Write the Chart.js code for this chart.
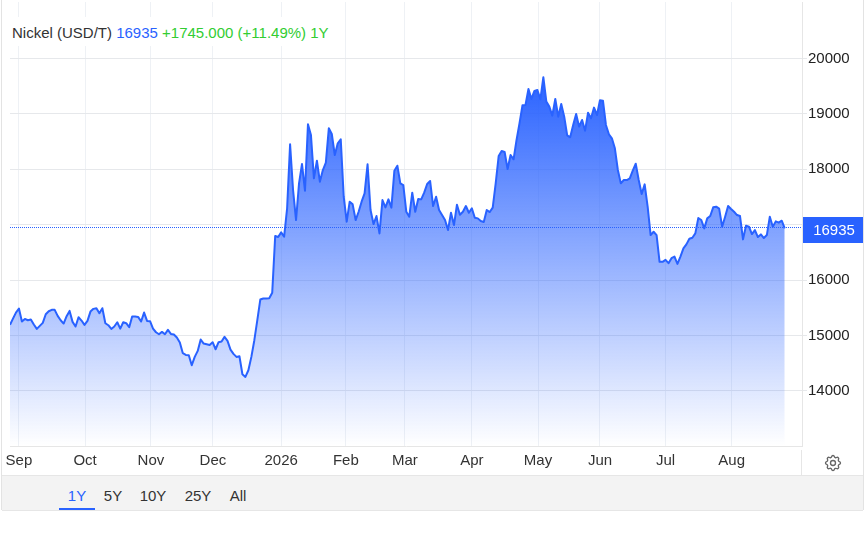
<!DOCTYPE html>
<html>
<head>
<meta charset="utf-8">
<title>Nickel</title>
<script src="https://cdn.jsdelivr.net/npm/chart.js@4"></script>
<style>
  body { margin: 0; background: #fff; font-family: "Liberation Sans", Arial, sans-serif; }
  #wrap { position: relative; width: 868px; height: 534px; overflow: hidden; }
  #nickel-chart { position: absolute; left: 0; top: 0; }
  #title { position: absolute; left: 10px; top: 17px; height: 29px; line-height: 31px; padding: 0 6px 0 2px; background: #fff; font-size: 15px; color: #333; white-space: nowrap; }
  #title .last { color: #2962ff; }
  #title .chg { color: #32cd32; }
  #frame-left { position: absolute; left: 1px; top: 0; width: 1px; height: 510px; background: #e3e3e3; }
  #frame-right { position: absolute; left: 863px; top: 0; width: 1px; height: 510px; background: #e3e3e3; }
  #axis-stub { position: absolute; left: 801px; top: 450px; width: 1px; height: 25px; background: #e6e6e6; }
  #ranges { position: absolute; left: 2px; top: 475px; width: 861px; height: 34px; background: #f3f3f3; border-top: 1px solid #e6e6e6; border-bottom: 1px solid #e6e6e6; }
  #ranges span { position: absolute; top: 0; width: 36px; height: 34px; line-height: 40px; text-align: center; font-size: 15px; color: #333; }
  #ranges span.on { color: #2962ff; border-bottom: 2px solid #2962ff; height: 32px; }
  #gear { position: absolute; left: 823px; top: 453px; }
</style>
</head>
<body>
<div id="wrap">
  <canvas id="nickel-chart" width="868" height="534"></canvas>
  <div id="title">Nickel (USD/T) <span class="last">16935</span> <span class="chg">+1745.000 (+11.49%) 1Y</span></div>
  <div id="axis-stub"></div>
  <svg id="gear" width="20" height="20" viewBox="0 0 24 24" fill="none" stroke="#666" stroke-width="1.6">
    <path d="M10.325 4.317c.426-1.756 2.924-1.756 3.35 0a1.724 1.724 0 002.573 1.066c1.543-.94 3.31.826 2.37 2.37a1.724 1.724 0 001.065 2.572c1.756.426 1.756 2.924 0 3.35a1.724 1.724 0 00-1.066 2.573c.94 1.543-.826 3.31-2.37 2.37a1.724 1.724 0 00-2.572 1.065c-.426 1.756-2.924 1.756-3.35 0a1.724 1.724 0 00-2.573-1.066c-1.543.94-3.31-.826-2.37-2.37a1.724 1.724 0 00-1.065-2.572c-1.756-.426-1.756-2.924 0-3.35a1.724 1.724 0 001.066-2.573c-.94-1.543.826-3.31 2.37-2.37.996.608 2.296.07 2.572-1.065z"/>
    <circle cx="12" cy="12" r="3"/>
  </svg>
  <div id="ranges">
    <span class="on" style="left:57px">1Y</span>
    <span style="left:93px">5Y</span>
    <span style="left:133px">10Y</span>
    <span style="left:178px">25Y</span>
    <span style="left:218px">All</span>
  </div>
  <div id="frame-left"></div>
  <div id="frame-right"></div>
</div>
<script>
// daily close, one value per trading day
const nickelPrices = [
  15193, 15307, 15415, 15488, 15253, 15301, 15277, 15289, 15199, 15120, 15175, 15229, 15385, 15439, 15464, 15464,
  15355, 15277, 15217, 15349, 15445, 15247, 15163, 15331, 15271, 15193, 15265, 15433, 15482, 15494, 15403, 15494,
  15223, 15187, 15120, 15163, 15241, 15126, 15241, 15223, 15151, 15343, 15343, 15337, 15253, 15415, 15265, 15259,
  15126, 15060, 15024, 15066, 15024, 15102, 15030, 15018, 14964, 14874, 14681, 14651, 14645, 14464, 14615, 14723,
  14928, 14856, 14843, 14831, 14880, 14753, 14880, 14892, 14976, 14904, 14747, 14669, 14615, 14627, 14302, 14254,
  14374, 14615, 14916, 15277, 15650, 15668, 15668, 15674, 15771,
  16796, 16778, 16862, 16784, 17296, 18452, 17627, 17085, 17747, 18096, 17615, 18813, 18620, 17837, 18157, 17777,
  17988, 18120, 18740, 18638, 18259, 18470, 18542, 17506, 17055, 17416, 17368, 17085, 17235, 17416, 17567, 18090,
  17266, 17013, 17157, 16844, 17446, 17314, 17458, 17308, 17976, 18066, 17747, 17717, 17235, 17145, 17579, 17235,
  17464, 17458, 17579, 17735, 17789, 17338,
  17506, 17266, 17175, 17085, 16904, 17217, 16995, 17362, 17181, 17235, 17338, 17217, 17296, 17127, 17115, 17067,
  17049, 17266, 17229, 17308, 17747, 18241, 18331, 18313, 18006, 18259, 18181, 18530, 18831, 19156, 19162, 19451,
  19270, 19415, 19433, 19264, 19662, 19222, 19132, 18969, 19270, 18951, 19180, 18951, 18614, 18578, 18801, 18999,
  18771, 18891, 18698, 19023, 18921, 19114, 18981, 19246, 19240, 18801, 18632, 18560, 18379, 17988, 17747, 17807,
  17807, 17837, 17976, 18102, 17807, 17555, 17729, 17326, 16814, 16874, 16814,
  16330, 16330, 16366, 16306, 16396, 16426, 16294, 16426, 16573, 16646, 16748, 16766, 16844, 17121, 17085, 16934,
  17115, 17157, 17314, 17326, 17290, 16965, 17145, 17338, 17284, 17235, 17175, 17157, 16736, 16983, 16965, 16832,
  16904, 16778, 16826, 16760, 16814, 17145, 16965, 17061, 17037, 17073, 16935
];
const lastPrice = 16935;
const monthLabels = ['Sep', 'Oct', 'Nov', 'Dec', '2026', 'Feb', 'Mar', 'Apr', 'May', 'Jun', 'Jul', 'Aug'];
const monthPositions = [3, 25.2, 47.3, 68.1, 91, 112.7, 132.5, 155, 177.2, 198, 220, 242.2];
const priceTicks = [14000, 15000, 16000, 17000, 18000, 19000, 20000];
const xMax = 265.8;
const yMin = 13007;
const yMax = 21020;

const blue = '#2962ff';

function areaGradient(context) {
  const chart = context.chart;
  if (!chart.chartArea) return 'rgba(41,98,255,0.5)';
  const top = chart.scales.y.getPixelForValue(19662);
  const g = chart.ctx.createLinearGradient(0, top, 0, chart.chartArea.bottom);
  g.addColorStop(0, 'rgba(41,98,255,1)');
  g.addColorStop(1, 'rgba(41,98,255,0)');
  return g;
}

// dotted last price line and the blue box on the right axis
const lastPriceMark = {
  id: 'lastPriceMark',
  afterDraw(chart) {
    const c = chart.ctx;
    const area = chart.chartArea;
    const y = Math.floor(chart.scales.y.getPixelForValue(lastPrice));
    c.save();
    c.strokeStyle = blue;
    c.lineWidth = 1;
    c.setLineDash([1, 1]);
    c.beginPath();
    c.moveTo(area.left, y - 0.5);
    c.lineTo(area.right, y - 0.5);
    c.stroke();
    c.fillStyle = blue;
    c.fillRect(area.right + 1, y - 11, 61, 26);
    c.fillStyle = '#fff';
    c.font = '15px "Liberation Sans", Arial, sans-serif';
    c.textAlign = 'center';
    c.textBaseline = 'middle';
    c.fillText(String(lastPrice), area.right + 32, y + 2.5);
    c.restore();
  }
};

new Chart(document.getElementById('nickel-chart').getContext('2d'), {
  type: 'line',
  data: {
    datasets: [{
      data: nickelPrices.map((v, i) => ({ x: i, y: v })),
      borderColor: blue,
      borderWidth: 2,
      borderJoinStyle: 'round',
      backgroundColor: areaGradient,
      fill: 'start',
      pointRadius: 0,
      tension: 0
    }]
  },
  options: {
    responsive: false,
    animation: false,
    layout: { padding: { left: 10, top: 2 } },
    plugins: { legend: { display: false }, tooltip: { enabled: false } },
    scales: {
      x: {
        type: 'linear',
        min: 0,
        max: xMax,
        afterBuildTicks(scale) { scale.ticks = monthPositions.map(value => ({ value })); },
        afterFit(scale) {
          scale.height = 88;
          scale.paddingLeft = 0;
          scale.paddingRight = 0;
        },
        grid: { color: '#eef1f5', drawTicks: false },
        border: { color: '#e6e6e6' },
        ticks: {
          autoSkip: false,
          maxRotation: 0,
          padding: 6,
          color: '#333',
          font: { family: '"Liberation Sans", Arial, sans-serif', size: 15 },
          callback: v => monthLabels[monthPositions.indexOf(v)]
        }
      },
      y: {
        position: 'right',
        min: yMin,
        max: yMax,
        afterBuildTicks(scale) { scale.ticks = priceTicks.map(value => ({ value })); },
        afterFit(scale) {
          scale.width = 66;
          scale.paddingTop = 0;
          scale.paddingBottom = 0;
        },
        grid: { color: '#e6e8eb', tickLength: 5 },
        border: { color: '#e6e6e6' },
        ticks: {
          padding: 1,
          color: '#222',
          font: { family: '"Liberation Sans", Arial, sans-serif', size: 15 },
          callback: v => String(v)
        }
      }
    }
  },
  plugins: [lastPriceMark]
});
</script>
</body>
</html>
